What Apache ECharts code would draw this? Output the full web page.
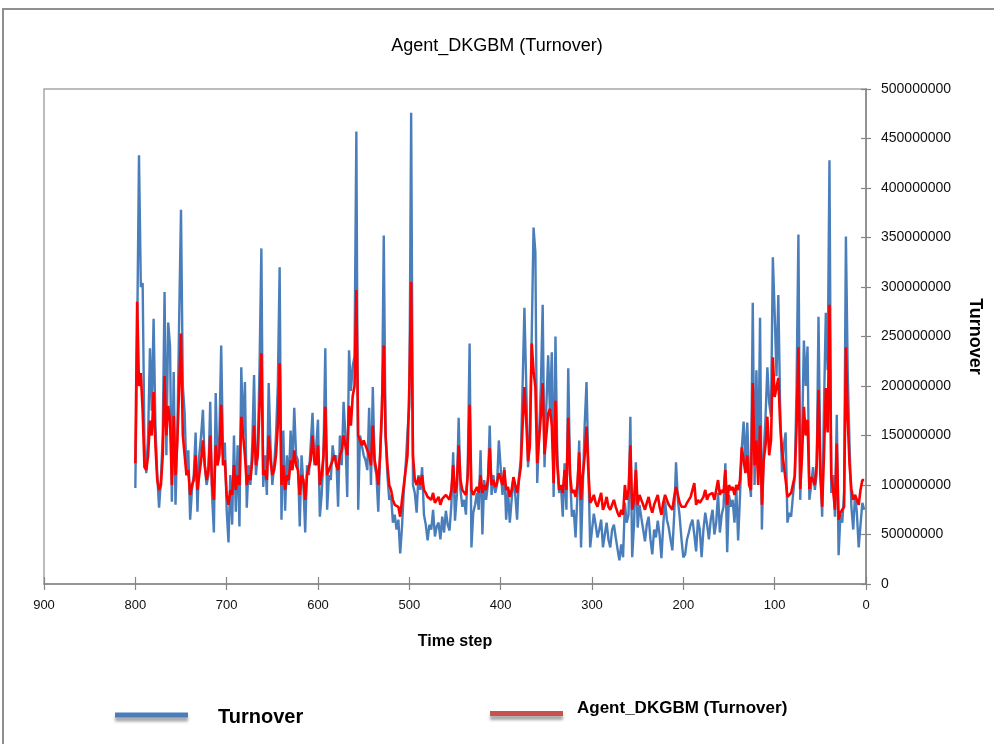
<!DOCTYPE html>
<html>
<head>
<meta charset="utf-8">
<script src="https://cdn.jsdelivr.net/npm/echarts/dist/echarts.min.js"></script>
<style>
  html, body { margin: 0; padding: 0; background: #fff; }
  #chart { width: 994px; height: 744px; }
</style>
</head>
<body>
<div id="chart"></div>
<script>
// Turnover per time step (millions), time steps 800, 798, ... 2
const turnover = [
  97,250,433,300,304,140,112,150,238,175,
  268,160,110,77,105,150,295,130,264,240,
  83,214,80,150,268,378,200,173,110,135,
  65,95,110,153,73,130,150,176,120,100,
  110,184,90,52,193,120,150,241,130,143,
  75,42,110,60,150,73,140,58,219,150,
  204,77,120,100,140,211,110,130,220,339,
  98,130,90,203,140,100,120,150,200,320,
  65,155,74,130,100,155,120,178,130,125,
  58,130,100,52,120,110,140,173,120,138,
  166,68,90,130,238,75,110,105,140,125,
  130,78,150,120,184,150,88,236,195,220,
  230,457,75,150,140,130,125,115,178,100,
  199,120,110,73,130,170,352,150,110,85,
  90,62,70,55,65,31,58,95,120,154,
  180,476,100,92,72,110,95,118,70,60,
  44,60,55,75,48,58,62,45,68,52,
  74,60,54,80,133,64,90,168,95,78,
  85,70,120,243,37,72,80,92,75,135,
  50,105,85,100,160,90,110,92,100,145,
  145,90,118,65,95,62,85,108,90,65,
  108,125,200,279,200,118,151,250,360,335,
  102,149,200,282,118,179,231,172,234,88,
  250,130,92,100,68,122,75,218,110,68,
  75,47,90,145,37,100,161,204,120,37,
  55,71,60,47,55,65,37,50,62,45,
  37,55,60,47,35,24,40,27,82,62,
  70,169,27,60,123,57,80,67,55,43,
  60,68,45,30,55,47,64,50,26,60,
  84,65,57,45,34,70,123,85,68,45,
  27,30,45,52,60,65,50,33,65,55,
  27,55,72,60,45,65,75,50,62,92,
  52,70,78,122,32,90,78,85,62,97,
  44,88,137,164,120,163,110,88,284,100,
  216,112,269,55,132,169,219,183,169,330,
  274,210,292,179,113,140,153,62,72,68,
  68,109,200,353,85,150,246,200,240,85,
  100,118,95,112,270,120,68,180,274,216,
  428,92,110,68,171,29,70,62,92,351,
  213,140,78,55,90,72,37,60,82,75
];

// Agent_DKGBM model output for the same time steps (millions)
const agentTurnover = [
  122,285,200,213,175,118,115,130,165,150,
  194,140,105,95,100,130,210,150,180,165,
  100,170,110,145,200,253,150,130,110,115,
  90,100,105,130,95,110,125,145,120,105,
  115,150,100,85,140,120,130,181,120,125,
  90,80,95,90,120,95,110,100,169,150,
  130,100,110,105,125,160,120,130,180,233,
  110,115,105,150,125,110,115,130,160,223,
  100,120,95,110,105,125,115,135,120,115,
  90,110,105,85,110,110,125,150,125,120,
  140,100,110,130,179,110,115,120,125,130,
  120,115,130,135,150,140,130,180,160,190,
  200,297,150,150,140,145,140,135,130,120,
  160,125,115,100,130,180,241,150,120,100,
  95,85,80,82,78,68,85,100,115,130,
  200,305,130,105,100,108,100,110,95,92,
  88,90,85,92,82,85,88,80,86,84,
  90,88,85,95,120,92,100,140,105,95,
  95,90,110,181,95,90,92,98,92,110,
  92,100,95,105,137,100,105,98,102,112,
  110,100,115,95,98,88,95,108,100,92,
  105,118,160,199,165,124,140,243,215,199,
  122,145,170,203,131,150,172,177,160,102,
  185,120,95,100,92,115,95,168,110,92,
  95,88,100,133,85,110,130,159,115,82,
  85,90,82,78,85,92,75,80,88,78,
  75,80,85,78,72,68,75,70,100,85,
  95,140,75,85,115,80,90,85,80,75,
  82,88,78,72,80,85,90,78,70,82,
  90,85,80,78,75,88,98,90,82,78,
  80,78,82,85,88,95,102,80,85,82,
  80,88,95,85,90,88,92,85,95,105,
  90,95,92,115,80,100,95,98,90,100,
  95,105,138,125,112,130,100,95,203,120,
  145,100,160,80,125,140,169,130,145,229,
  189,190,208,162,135,120,105,88,90,92,
  92,109,160,239,96,130,179,150,166,96,
  108,105,100,121,196,110,78,130,198,153,
  282,108,95,75,142,65,72,72,78,239,
  166,120,96,85,90,88,80,95,105,105
];

const FIRST_STEP = 800;
const STEP = 2;
const timeSteps = turnover.map((_, i) => FIRST_STEP - i * STEP);

const xTicks = { min: 0, max: 900, interval: 100 };
const yTicks = { min: 0, max: 500000000, interval: 50000000 };

const seriesNames = ['Turnover', 'Agent_DKGBM (Turnover)'];
const MILLION = 1e6;

const FONT = '"Liberation Sans", Arial, sans-serif';
const AXIS_GREY = '#868686';
const BLUE = '#4a7ebb';
const RED = '#ff0000';

const toPairs = vals => vals.map((v, i) => [timeSteps[i], v * MILLION]);

const chart = echarts.init(document.getElementById('chart'), null, { renderer: 'canvas' });

chart.setOption({
  animation: false,
  backgroundColor: '#ffffff',
  textStyle: { fontFamily: FONT },
  title: {
    text: 'Agent_DKGBM (Turnover)',
    left: 'center',
    top: 37,
    padding: 0,
    textStyle: { fontFamily: FONT, fontSize: 18, fontWeight: 'normal', color: '#000' }
  },
  grid: {
    left: 44, top: 89, width: 822, height: 495,
    show: true, borderColor: '#a6a6a6', borderWidth: 1.5, backgroundColor: 'transparent'
  },
  xAxis: [
    {
      type: 'value', inverse: true, position: 'bottom',
      min: xTicks.min, max: xTicks.max, interval: xTicks.interval,
      axisLine: { show: true, onZero: false, lineStyle: { color: AXIS_GREY, width: 1.5 } },
      axisTick: { show: true, length: 6, lineStyle: { color: AXIS_GREY, width: 1.2 } },
      axisLabel: { margin: 15, fontSize: 13, color: '#111', fontFamily: FONT },
      splitLine: { show: false },
      name: 'Time step', nameLocation: 'middle', nameGap: 50,
      nameTextStyle: { fontSize: 16, fontWeight: 'bold', color: '#000', fontFamily: FONT }
    },
    {
      type: 'value', inverse: true, position: 'bottom',
      min: xTicks.min, max: xTicks.max, interval: xTicks.interval,
      axisLine: { show: false },
      axisTick: { show: true, inside: true, length: 7, lineStyle: { color: AXIS_GREY, width: 1.2 } },
      axisLabel: { show: false },
      splitLine: { show: false }
    }
  ],
  yAxis: [
    {
      type: 'value', position: 'right',
      min: yTicks.min, max: yTicks.max, interval: yTicks.interval,
      axisLine: { show: true, onZero: false, lineStyle: { color: AXIS_GREY, width: 1.5 } },
      axisTick: { show: true, length: 5, lineStyle: { color: AXIS_GREY, width: 1.2 } },
      axisLabel: {
        margin: 15, fontSize: 14, color: '#111', fontFamily: FONT,
        formatter: v => String(v)
      },
      splitLine: { show: false },
      name: 'Turnover', nameLocation: 'middle', nameRotate: -90, nameGap: 100,
      nameTextStyle: { fontSize: 18, fontWeight: 'bold', color: '#000', fontFamily: FONT }
    },
    {
      type: 'value', position: 'right',
      min: yTicks.min, max: yTicks.max, interval: yTicks.interval,
      axisLine: { show: false },
      axisTick: { show: true, inside: true, length: 5, lineStyle: { color: AXIS_GREY, width: 1.2 } },
      axisLabel: { show: false },
      splitLine: { show: false }
    }
  ],
  legend: [
    {
      data: [{
        name: seriesNames[0],
        itemStyle: { color: BLUE, shadowBlur: 3, shadowColor: 'rgba(0,0,0,0.35)', shadowOffsetY: 4 }
      }],
      left: 115, top: 707, padding: 0,
      icon: 'rect', itemWidth: 73, itemHeight: 5,
      formatter: name => '{t|' + name + '}',
      textStyle: {
        color: '#000', fontFamily: FONT,
        rich: { t: { fontSize: 20, fontWeight: 'bold', color: '#000', fontFamily: FONT, padding: [4, 0, 0, 25] } }
      }
    },
    {
      data: [{
        name: seriesNames[1],
        itemStyle: { color: '#c8504d', shadowBlur: 3, shadowColor: 'rgba(0,0,0,0.35)', shadowOffsetY: 4 }
      }],
      left: 490, top: 700, padding: 0,
      icon: 'rect', itemWidth: 73, itemHeight: 5,
      formatter: name => '{t|' + name + '}',
      textStyle: {
        color: '#000', fontFamily: FONT,
        rich: { t: { fontSize: 17, fontWeight: 'bold', color: '#000', fontFamily: FONT, padding: [0, 0, 10, 9] } }
      }
    }
  ],
  graphic: [
    {
      type: 'rect', silent: true, z: -1,
      shape: { x: 3, y: 9, width: 1200, height: 900 },
      style: { fill: 'none', stroke: '#8f8f8f', lineWidth: 2 }
    }
  ],
  series: [
    {
      name: seriesNames[0], type: 'line', xAxisIndex: 0, yAxisIndex: 0,
      data: toPairs(turnover), showSymbol: false, symbol: 'none',
      lineStyle: { color: BLUE, width: 2.4 }, itemStyle: { color: BLUE }, z: 2
    },
    {
      name: seriesNames[1], type: 'line', xAxisIndex: 0, yAxisIndex: 0,
      data: toPairs(agentTurnover), showSymbol: false, symbol: 'none',
      lineStyle: { color: RED, width: 2.6 }, itemStyle: { color: RED }, z: 3
    }
  ]
});
</script>
</body>
</html>
